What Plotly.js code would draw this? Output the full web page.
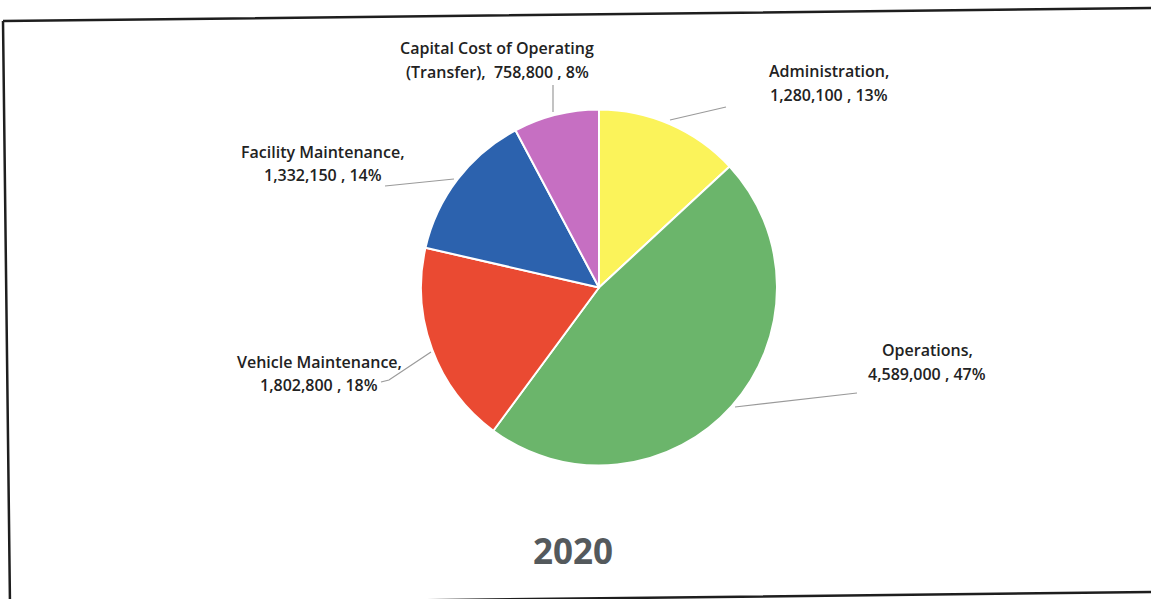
<!DOCTYPE html>
<html>
<head>
<meta charset="utf-8">
<script src="https://cdn.plot.ly/plotly-3.0.1.min.js"></script>
<style>html,body{margin:0;padding:0;background:#fff;}#chart{width:1151px;height:599px;}</style>
</head>
<body>
<div id="chart"></div>
<script>
// Data (clockwise from 12 o'clock)
const categories = ["Administration", "Operations", "Vehicle Maintenance", "Facility Maintenance", "Capital Cost of Operating (Transfer)"];
const values = [1280100, 4589000, 1802800, 1332150, 758800];
const percents = ["13%", "47%", "18%", "14%", "8%"];
const labelLine1 = ["Administration,", "Operations,", "Vehicle Maintenance,", "Facility Maintenance,", "Capital Cost of Operating"];
const labelPrefix2 = ["", "", "", "", "(Transfer),  "];
const colors = ["#FBF35A", "#6BB56B", "#EA4A32", "#2C62AE", "#C66FC2"];
const chartTitle = "2020";

const W = 1151, H = 599;
const px = x => x / W;
const py = y => 1 - y / H;
const fmt = v => v.toLocaleString("en-US");

// label anchor positions (pixels): center x, line1 y, line2 y
const labelPos = [
  {x: 829, y1: 71, y2: 95},
  {x: 927, y1: 350, y2: 374},
  {x: 319, y1: 362, y2: 385},
  {x: 323, y1: 152, y2: 175},
  {x: 497, y1: 48, y2: 72}
];
const leaders = [
  [[726,107],[670,120]],
  [[857,393],[735,407]],
  [[381,382],[389,380],[431,352]],
  [[385,186],[454,179]],
  [[553,85],[553,112]]
];

const labelFont = {family: "Open Sans", size: 16, color: "#222222", weight: 600};
const annotations = [];
categories.forEach((c, i) => {
  annotations.push({
    xref: "paper", yref: "paper",
    x: px(labelPos[i].x), y: py(labelPos[i].y1),
    xanchor: "center", yanchor: "middle", showarrow: false,
    text: labelLine1[i], font: labelFont
  });
  annotations.push({
    xref: "paper", yref: "paper",
    x: px(labelPos[i].x), y: py(labelPos[i].y2),
    xanchor: "center", yanchor: "middle", showarrow: false,
    text: labelPrefix2[i] + fmt(values[i]) + " , " + percents[i], font: labelFont
  });
});
annotations.push({
  xref: "paper", yref: "paper", x: px(573), y: py(550),
  xanchor: "center", yanchor: "middle", showarrow: false,
  text: chartTitle,
  font: {family: "Open Sans", size: 35, color: "#54595c", weight: 700}
});

const shapes = leaders.map(pts => ({
  type: "path", xref: "paper", yref: "paper",
  path: pts.map((p, j) => (j ? "L " : "M ") + px(p[0]) + "," + py(p[1])).join(" "),
  line: {color: "#9a9a9a", width: 1.2}
}));
// frame (slightly rotated scan)
shapes.push({
  type: "path", xref: "paper", yref: "paper",
  path: "M " + px(3) + "," + py(21) + " L " + px(1152) + "," + py(8) +
        " M " + px(3) + "," + py(21) + " L " + px(10) + "," + py(605) +
        " M " + px(10) + "," + py(605) + " L " + px(1152) + "," + py(592),
  line: {color: "#1e1e1e", width: 2.5}
});

const trace = {
  type: "pie",
  labels: categories,
  values: values,
  sort: false,
  direction: "clockwise",
  rotation: 0,
  textinfo: "none",
  hoverinfo: "skip",
  marker: {colors: colors, line: {color: "#ffffff", width: 2}},
  domain: {x: [px(421), px(777)], y: [py(467), py(108)]}
};

Plotly.newPlot("chart", [trace], {
  width: W, height: H,
  margin: {l: 0, r: 0, t: 0, b: 0},
  paper_bgcolor: "#ffffff",
  showlegend: false,
  annotations: annotations,
  shapes: shapes
}, {displayModeBar: false, staticPlot: true});
</script>
</body>
</html>
